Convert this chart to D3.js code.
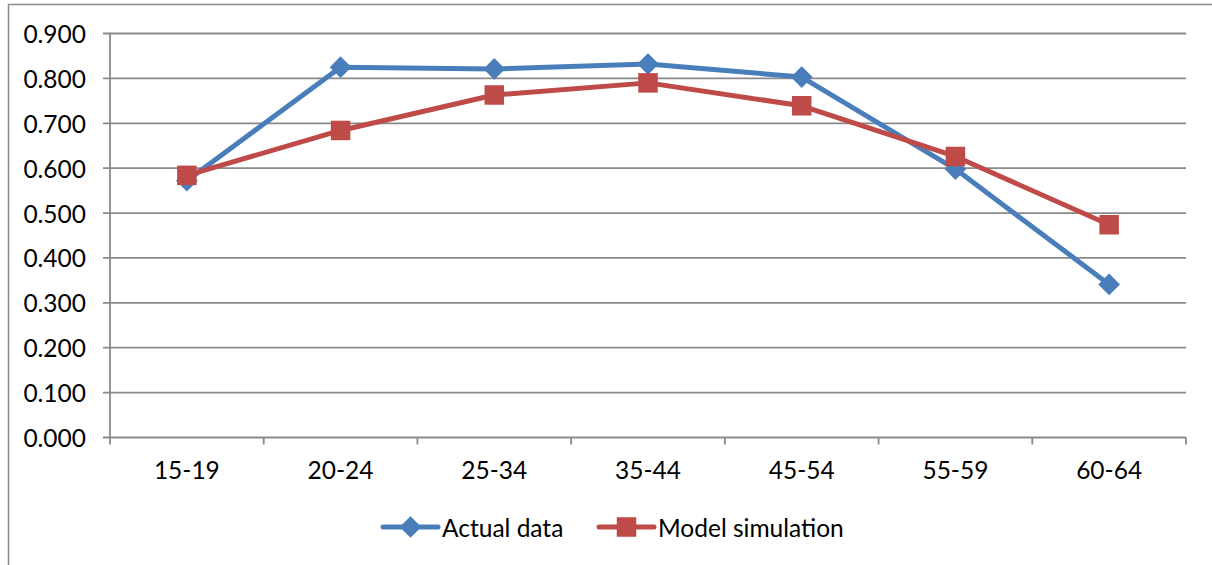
<!DOCTYPE html>
<html>
<head>
<meta charset="utf-8">
<script src="https://cdn.jsdelivr.net/npm/d3@7"></script>
<style>
  body { margin: 0; background: #fff; }
  text { font-family: Lato, "Open Sans", sans-serif; fill: #000; }
</style>
</head>
<body>
<div class="holder"></div>
<script>
// age groups on the x axis
var ageGroups = ["15-19", "20-24", "25-34", "35-44", "45-54", "55-59", "60-64"];
var actualData = [0.572, 0.825, 0.821, 0.832, 0.803, 0.598, 0.341];
var modelSimulation = [0.584, 0.684, 0.763, 0.790, 0.739, 0.626, 0.474];
var yTicks = [0, 0.1, 0.2, 0.3, 0.4, 0.5, 0.6, 0.7, 0.8, 0.9];
var seriesNames = ["Actual data", "Model simulation"];

var width = 1212,
    height = 565;

var margin = {left: 110, right: 26, top: 34, bottom: 128};

var blue = "#4a7ebb",
    red = "#be4b48",
    gridColor = "#8a8a8a";

var fontSize = "24.5px";

var svg = d3.select(".holder").append("svg")
    .attr("width", width)
    .attr("height", height)

// chart border (top and left only visible)
svg.append("path")
    .attr("d", "M8.5," + height + "V4.5H" + width)
    .attr("fill", "none")
    .attr("stroke", gridColor)
    .attr("stroke-width", 1.5)

var x = d3.scaleBand()
    .domain(ageGroups)
    .range([margin.left, width - margin.right])

var y = d3.scaleLinear()
    .domain([0, 0.9])
    .range([height - margin.bottom + 0.5, margin.top - 0.5])

// horizontal gridlines
svg.append("g")
    .selectAll("line")
    .data(yTicks)
    .enter().append("line")
    .attr("x1", margin.left - 7)
    .attr("x2", width - margin.right)
    .attr("y1", d => y(d))
    .attr("y2", d => y(d))
    .attr("stroke", gridColor)
    .attr("stroke-width", 1.8)

// y axis line
svg.append("line")
    .attr("x1", margin.left)
    .attr("x2", margin.left)
    .attr("y1", y(0.9))
    .attr("y2", y(0) + 7)
    .attr("stroke", gridColor)
    .attr("stroke-width", 1.8)

// x axis category ticks
var xEdges = ageGroups.map(d => x(d) + x.bandwidth())
svg.append("g")
    .selectAll("line")
    .data(xEdges)
    .enter().append("line")
    .attr("x1", d => d)
    .attr("x2", d => d)
    .attr("y1", y(0))
    .attr("y2", y(0) + 7)
    .attr("stroke", gridColor)
    .attr("stroke-width", 1.8)

// y tick labels
svg.append("g")
    .selectAll("text")
    .data(yTicks)
    .enter().append("text")
    .attr("x", margin.left - 24)
    .attr("y", d => y(d))
    .attr("text-anchor", "end")
    .attr("dominant-baseline", "central")
    .style("font-size", fontSize)
    .text(d => d3.format(".3f")(d))

// x tick labels
svg.append("g")
    .selectAll("text")
    .data(ageGroups)
    .enter().append("text")
    .attr("x", d => x(d) + x.bandwidth() / 2)
    .attr("y", y(0) + 32)
    .attr("text-anchor", "middle")
    .attr("dominant-baseline", "central")
    .style("font-size", fontSize)
    .text(d => d)

var line = d3.line()
    .x((d, i) => x(ageGroups[i]) + x.bandwidth() / 2)
    .y(d => y(d))

function drawSeries(values, color, shape) {
    svg.append("path")
        .datum(values)
        .attr("d", line)
        .attr("fill", "none")
        .attr("stroke", color)
        .attr("stroke-width", 5)
        .attr("stroke-linejoin", "round")

    svg.append("g")
        .selectAll("path")
        .data(values)
        .enter().append("path")
        .attr("transform", (d, i) => "translate(" + (x(ageGroups[i]) + x.bandwidth() / 2) + "," + y(d) + ")")
        .attr("d", d3.symbol().type(shape).size(shape === d3.symbolSquare ? 380 : 300))
        .attr("fill", color)
}

drawSeries(actualData, blue, d3.symbolDiamond2)
drawSeries(modelSimulation, red, d3.symbolSquare)

// legend
var legendY = 527
var legendItems = [
    {name: seriesNames[0], color: blue, shape: d3.symbolDiamond2, x: 383},
    {name: seriesNames[1], color: red, shape: d3.symbolSquare, x: 599}
]
var legend = svg.append("g")
    .selectAll("g")
    .data(legendItems)
    .enter().append("g")
    .attr("transform", d => "translate(" + d.x + "," + legendY + ")")

legend.append("line")
    .attr("x1", 0)
    .attr("x2", 55)
    .attr("stroke", d => d.color)
    .attr("stroke-width", 5)
    .attr("stroke-linecap", "round")

legend.append("path")
    .attr("transform", "translate(27.5,0)")
    .attr("d", d => d3.symbol().type(d.shape).size(d.shape === d3.symbolSquare ? 380 : 300)())
    .attr("fill", d => d.color)

legend.append("text")
    .attr("x", 59)
    .attr("y", 0)
    .attr("dominant-baseline", "central")
    .style("font-size", fontSize)
    .text(d => d.name)
</script>
</body>
</html>
